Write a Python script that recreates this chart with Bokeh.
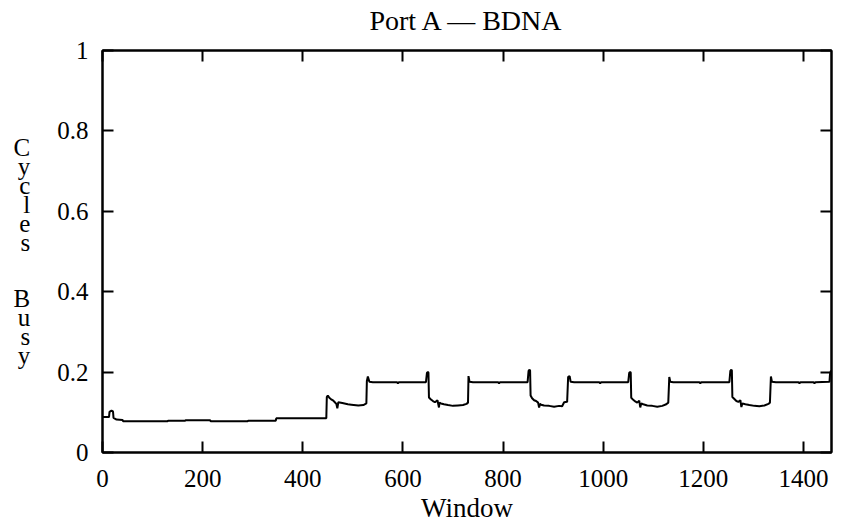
from bokeh.plotting import figure
from bokeh.models import LinearAxis, Range1d, FixedTicker
from bokeh.embed import file_html
from bokeh.resources import INLINE

FONT = "Liberation Serif"

title_text = "Port A \u2014 BDNA"
x_label = "Window"
y_label_words = ["Cycles", "Busy"]

x_ticks = [0, 200, 400, 600, 800, 1000, 1200, 1400]
y_ticks = [0, 0.2, 0.4, 0.6, 0.8, 1]
y_tick_labels = ["0", "0.2", "0.4", "0.6", "0.8", "1"]

base_x = [0, 13, 14, 18, 21, 22, 28, 40, 41, 130, 131, 165, 166, 215, 216, 290, 291, 346, 347, 446]
base_y = [0.088, 0.088, 0.101, 0.104, 0.102, 0.086, 0.082, 0.081, 0.078, 0.078, 0.079, 0.079, 0.080, 0.080, 0.078, 0.078, 0.079, 0.079, 0.085, 0.085]

low1_x = [447, 448, 450, 453, 456, 461, 464, 467, 469, 471, 479, 490, 497, 511, 521, 527, 528, 530, 533]
low1_y = [0.085, 0.138, 0.142, 0.136, 0.133, 0.129, 0.125, 0.121, 0.110, 0.125, 0.123, 0.120, 0.119, 0.117, 0.118, 0.122, 0.178, 0.189, 0.176]

high1_x = [540, 588, 590, 592, 646, 648, 650]
high1_y = [0.175, 0.175, 0.172, 0.175, 0.175, 0.198, 0.200]

low2_x = [651, 652, 656, 660, 664, 669, 672, 673, 676, 682, 690, 700, 710, 720, 727, 730, 731, 733]
low2_y = [0.199, 0.137, 0.132, 0.128, 0.125, 0.130, 0.112, 0.124, 0.122, 0.120, 0.118, 0.116, 0.117, 0.118, 0.121, 0.124, 0.190, 0.176]

high2_x = [740, 790, 792, 794, 849, 851, 853]
high2_y = [0.175, 0.175, 0.172, 0.175, 0.175, 0.203, 0.206]

low3_x = [854, 855, 858, 862, 866, 870, 872, 874, 876, 882, 892, 902, 912, 918, 922, 928, 930, 933, 935]
low3_y = [0.204, 0.142, 0.135, 0.130, 0.128, 0.124, 0.112, 0.121, 0.119, 0.117, 0.116, 0.114, 0.116, 0.115, 0.125, 0.126, 0.188, 0.190, 0.176]

high3_x = [942, 992, 994, 996, 1050, 1052, 1054]
high3_y = [0.175, 0.175, 0.172, 0.175, 0.175, 0.198, 0.200]

low4_x = [1055, 1056, 1060, 1064, 1068, 1072, 1074, 1076, 1080, 1088, 1098, 1108, 1118, 1126, 1130, 1132, 1134]
low4_y = [0.199, 0.136, 0.131, 0.127, 0.124, 0.129, 0.112, 0.122, 0.120, 0.117, 0.116, 0.114, 0.116, 0.120, 0.124, 0.188, 0.176]

high4_x = [1140, 1192, 1194, 1196, 1252, 1254, 1256]
high4_y = [0.175, 0.175, 0.172, 0.175, 0.175, 0.203, 0.206]

low5_x = [1257, 1258, 1262, 1266, 1270, 1274, 1276, 1278, 1284, 1292, 1302, 1312, 1322, 1330, 1333, 1335, 1337]
low5_y = [0.204, 0.138, 0.133, 0.128, 0.126, 0.130, 0.113, 0.122, 0.120, 0.118, 0.116, 0.115, 0.117, 0.121, 0.124, 0.189, 0.176]

high5_x = [1345, 1390, 1392, 1394, 1420, 1422, 1424, 1452, 1453, 1455]
high5_y = [0.175, 0.175, 0.172, 0.175, 0.175, 0.172, 0.175, 0.176, 0.195, 0.204]

xs = base_x + low1_x + high1_x + low2_x + high2_x + low3_x + high3_x + low4_x + high4_x + low5_x + high5_x
ys = base_y + low1_y + high1_y + low2_y + high2_y + low3_y + high3_y + low4_y + high4_y + low5_y + high5_y

FS = "25px"
FS_BIG = "27px"

p = figure(width=846, height=529, output_backend="svg", toolbar_location=None,
           x_range=Range1d(0, 1456), y_range=Range1d(0, 1),
           min_border_left=102, min_border_right=15, min_border_top=50, min_border_bottom=77)
p.background_fill_color = "white"
p.border_fill_color = "white"
p.outline_line_color = "black"
p.outline_line_width = 2
p.xgrid.visible = False
p.ygrid.visible = False

p.line(xs, ys, line_color="black", line_width=2)

def style(ax, ticks, show_labels):
    ax.ticker = FixedTicker(ticks=ticks)
    ax.major_tick_in = 11
    ax.major_tick_out = 0
    ax.minor_tick_in = 0
    ax.minor_tick_out = 0
    ax.major_tick_line_width = 2
    ax.major_tick_line_color = "black"
    ax.axis_line_width = 2
    ax.axis_line_color = "black"
    ax.major_label_text_font = FONT
    ax.axis_label_text_font = FONT
    ax.axis_label_text_font_style = "normal"
    ax.axis_label_text_color = "black"
    ax.axis_label_text_font_size = FS_BIG
    if show_labels:
        ax.major_label_text_font_size = FS
        ax.major_label_text_color = "black"
    else:
        ax.major_label_text_font_size = "1px"
        ax.major_label_text_color = None
        ax.major_label_standoff = 0

xa = p.xaxis[0]
style(xa, x_ticks, True)
xa.major_label_standoff = 17
xa.axis_label = x_label
xa.axis_label_standoff = 3

ya = p.yaxis[0]
style(ya, y_ticks, True)
ya.major_label_standoff = 14
ya.major_label_overrides = {t: s for t, s in zip(y_ticks, y_tick_labels)}
ya.axis_label = "\n\n\n".join("\n".join(w) for w in y_label_words)
ya.axis_label_orientation = "horizontal"
ya.axis_label_text_align = "center"
ya.axis_label_text_font_size = FS
ya.axis_label_text_line_height = 0.7
ya.axis_label_standoff = 24

top = LinearAxis()
style(top, x_ticks, False)
top.axis_label = title_text
top.axis_label_text_font_size = "28px"
top.axis_label_standoff = 15
p.add_layout(top, "above")

right = LinearAxis()
style(right, y_ticks, False)
p.add_layout(right, "right")

open("out.html", "w").write(file_html(p, INLINE))
